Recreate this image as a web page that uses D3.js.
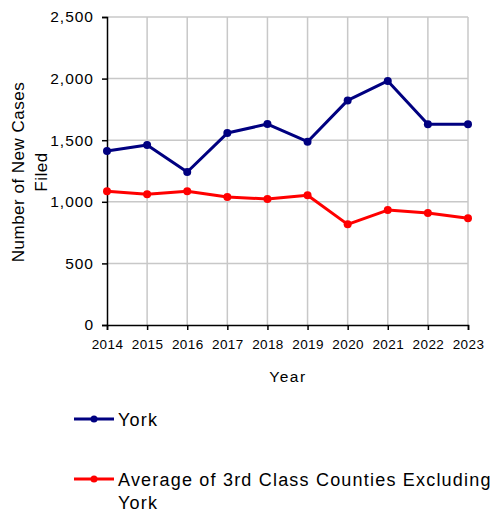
<!DOCTYPE html>
<html>
<head>
<meta charset="utf-8">
<script src="https://cdn.jsdelivr.net/npm/d3@7"></script>
<style>
  body { margin: 0; background: #fff; }
  text { font-family: "Liberation Sans", Arial, sans-serif; fill: #000; }
</style>
</head>
<body>
<div id="chart"></div>
<script>
var years = [2014, 2015, 2016, 2017, 2018, 2019, 2020, 2021, 2022, 2023];
var york = [1412, 1461, 1242, 1558, 1631, 1488, 1823, 1981, 1629, 1629];
var average = [1085, 1061, 1085, 1039, 1023, 1053, 817, 933, 909, 866];
var yTicks = [0, 500, 1000, 1500, 2000, 2500];

var series = [
    { name: "York", values: york, color: "#000080" },
    { name: "Average of 3rd Class Counties Excluding York", values: average, color: "#ff0000" }
];

var svg = d3.select('#chart')
    .append('svg')
    .attr('width', 495)
    .attr('height', 514);

var margin = { top: 17, right: 27, bottom: 189, left: 107 };
var width = 495 - margin.left - margin.right;
var height = 514 - margin.top - margin.bottom;

var g = svg.append("g").attr("transform", "translate(" + margin.left + "," + margin.top + ")");

var x = d3.scalePoint().domain(years).range([0, width]);
var y = d3.scaleLinear().domain([0, 2500]).range([height, 0]);

// grid
g.append("g").selectAll("line").data(yTicks.slice(1)).enter().append("line")
    .attr("x1", 0).attr("x2", width)
    .attr("y1", function (d) { return y(d); }).attr("y2", function (d) { return y(d); })
    .attr("stroke", "#c8c8c8").attr("stroke-width", 1.5);
g.append("g").selectAll("line").data(years.slice(1)).enter().append("line")
    .attr("y1", 0).attr("y2", height)
    .attr("x1", function (d) { return x(d); }).attr("x2", function (d) { return x(d); })
    .attr("stroke", "#c8c8c8").attr("stroke-width", 1.5);

// axes
var yAxis = g.append("g")
    .call(d3.axisLeft(y).tickValues(yTicks).tickFormat(d3.format(",")).tickSizeOuter(0).tickSize(5).tickPadding(8));
yAxis.selectAll("text").style("font-size", "15.5px").style("letter-spacing", "1px").attr("fill", "#000");
yAxis.selectAll("line, path").attr("stroke", "#000").attr("stroke-width", 1.5);

var xAxis = g.append("g")
    .attr("transform", "translate(0," + height + ")")
    .call(d3.axisBottom(x).tickSizeOuter(0).tickSize(5).tickPadding(9));
xAxis.selectAll("text").style("font-size", "13.5px").style("letter-spacing", "0.4px").attr("fill", "#000");
xAxis.selectAll("line, path").attr("stroke", "#000").attr("stroke-width", 1.5);

// axis titles
svg.append("text")
    .attr("x", 288).attr("y", 382)
    .attr("text-anchor", "middle")
    .style("font-size", "15.5px")
    .style("letter-spacing", "1.5px")
    .text("Year");

var yTitle = svg.append("text")
    .attr("transform", "translate(24,172) rotate(-90)")
    .attr("text-anchor", "middle")
    .style("font-size", "17px")
    .style("letter-spacing", "0.5px");
yTitle.append("tspan").attr("x", 0).attr("dy", 0).text("Number of New Cases");
yTitle.append("tspan").attr("x", 0).attr("dy", 23).text("Filed");

// lines
var line = d3.line()
    .x(function (d, i) { return x(years[i]); })
    .y(function (d) { return y(d); });

series.forEach(function (s) {
    g.append("path")
        .datum(s.values)
        .attr("fill", "none")
        .attr("stroke", s.color)
        .attr("stroke-width", 3)
        .attr("stroke-linejoin", "round")
        .attr("d", line);
    g.append("g").selectAll("circle").data(s.values).enter().append("circle")
        .attr("cx", function (d, i) { return x(years[i]); })
        .attr("cy", function (d) { return y(d); })
        .attr("r", 4)
        .attr("fill", s.color);
});

// legend
var legendY = [419, 479];
series.forEach(function (s, i) {
    var lg = svg.append("g").attr("transform", "translate(74," + legendY[i] + ")");
    lg.append("line").attr("x1", 0).attr("x2", 40).attr("y1", 0).attr("y2", 0)
        .attr("stroke", s.color).attr("stroke-width", 3);
    lg.append("circle").attr("cx", 20).attr("cy", 0).attr("r", 3.5).attr("fill", s.color);
    var t = lg.append("text").attr("x", 44).attr("y", 7)
        .style("font-size", "18px")
        .style("letter-spacing", "1.2px");
    if (i === 1) {
        t.append("tspan").attr("x", 44).text("Average of 3rd Class Counties Excluding");
        t.append("tspan").attr("x", 44).attr("dy", 23).text("York");
    } else {
        t.text(s.name);
    }
});
</script>
</body>
</html>
